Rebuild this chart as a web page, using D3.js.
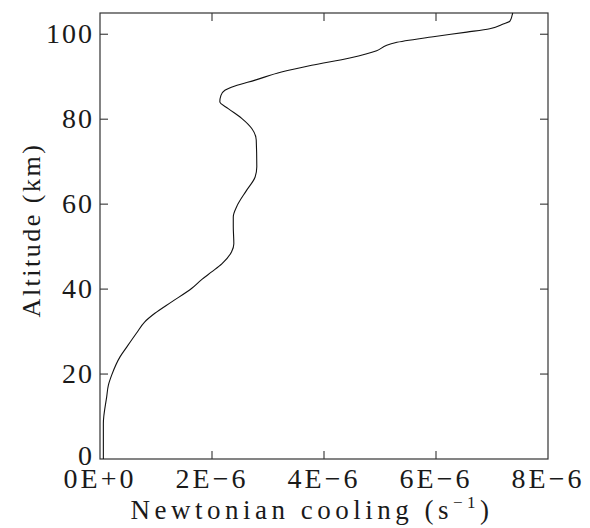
<!DOCTYPE html>
<html>
<head>
<meta charset="utf-8">
<script src="https://cdn.jsdelivr.net/npm/d3@7/dist/d3.min.js"></script>
<style>
  html, body { margin: 0; padding: 0; background: #fff; }
</style>
</head>
<body>
<svg id="chart" width="590" height="528" font-family="'Liberation Serif', 'DejaVu Serif', serif"></svg>
<script>
// Newtonian cooling rate profile (s^-1) versus altitude (km)
const altitude = [0, 8.4, 14.7, 17.4, 19.8, 24.1, 26.4, 29.6, 32.3, 34.3, 37.0, 40.2, 42.3, 44.1, 46.0, 48.8, 50.7,
  54.7, 57.0, 59.4, 63.3, 66.4, 68.8, 75.1, 77.8, 80.2, 82.5, 84.1, 85.6, 86.8, 87.8, 89.2, 91.1,
  92.7, 94.4, 96.1, 97.4, 98.0, 99.4, 100.5, 101.3, 102.4, 103.1, 104.5, 105.0];
const cooling = [0.06, 0.06, 0.12, 0.15, 0.21, 0.36, 0.48, 0.65, 0.80, 0.98, 1.28, 1.64, 1.82, 2.00, 2.18, 2.35, 2.39,
  2.38, 2.38, 2.44, 2.62, 2.77, 2.80, 2.79, 2.71, 2.53, 2.29, 2.14, 2.16, 2.23, 2.41, 2.77, 3.24,
  3.78, 4.46, 4.94, 5.12, 5.27, 5.95, 6.55, 6.96, 7.20, 7.32, 7.36, 7.37].map(v => v * 1e-6);

const xTicks = [0, 2e-6, 4e-6, 6e-6, 8e-6];
const xTickLabels = ["0E+0", "2E\u22126", "4E\u22126", "6E\u22126", "8E\u22126"];
const yTicks = [0, 20, 40, 60, 80, 100];

const svg = d3.select("#chart");
const plotLeft = 100, plotRight = 548, plotTop = 13, plotBottom = 459;

const x = d3.scaleLinear().domain([0, 8e-6]).range([plotLeft, plotRight]);
const y = d3.scaleLinear().domain([0, 105]).range([plotBottom, plotTop]);

const tickLen = 8;
const axisColor = "#333";
const textColor = "#1a1a1a";

// Frame
svg.append("rect")
  .attr("x", plotLeft).attr("y", plotTop)
  .attr("width", plotRight - plotLeft).attr("height", plotBottom - plotTop)
  .attr("fill", "none").attr("stroke", axisColor).attr("stroke-width", 1.2);

// Inward ticks on all four sides
const g = svg.append("g").attr("stroke", axisColor).attr("stroke-width", 1.1);
xTicks.slice(1, -1).forEach(t => {
  g.append("line").attr("x1", x(t)).attr("x2", x(t)).attr("y1", plotBottom).attr("y2", plotBottom - tickLen);
  g.append("line").attr("x1", x(t)).attr("x2", x(t)).attr("y1", plotTop).attr("y2", plotTop + tickLen);
});
yTicks.slice(1).forEach(t => {
  g.append("line").attr("y1", y(t)).attr("y2", y(t)).attr("x1", plotLeft).attr("x2", plotLeft + tickLen);
  g.append("line").attr("y1", y(t)).attr("y2", y(t)).attr("x1", plotRight).attr("x2", plotRight - tickLen);
});

// Tick labels
svg.append("g").selectAll("text").data(xTicks).join("text")
  .attr("x", d => x(d)).attr("y", 488)
  .attr("text-anchor", "middle")
  .attr("fill", textColor)
  .attr("font-size", 28).attr("letter-spacing", 3)
  .text((d, i) => xTickLabels[i]);

svg.append("g").selectAll("text").data(yTicks).join("text")
  .attr("x", 94).attr("y", d => y(d) + (d === 0 ? 6 : 9))
  .attr("text-anchor", "end")
  .attr("fill", textColor)
  .attr("font-size", 28).attr("letter-spacing", 2)
  .text(d => d);

// Axis titles
const xt = svg.append("text")
  .attr("x", 312).attr("y", 519)
  .attr("text-anchor", "middle")
  .attr("fill", textColor)
  .attr("font-size", 27).attr("letter-spacing", 4.5);
xt.append("tspan").text("Newtonian cooling (s");
xt.append("tspan").attr("font-size", 17).attr("dy", -11).text("\u22121");
xt.append("tspan").attr("dy", 11).text(")");

svg.append("text")
  .attr("transform", "translate(40,230) rotate(-90)")
  .attr("text-anchor", "middle")
  .attr("fill", textColor)
  .attr("font-size", 26).attr("letter-spacing", 2.5)
  .text("Altitude (km)");

// Profile curve
const line = d3.line()
  .x((d, i) => x(cooling[i]))
  .y(d => y(d))
  .curve(d3.curveMonotoneY);

svg.append("path")
  .datum(altitude)
  .attr("d", line)
  .attr("fill", "none")
  .attr("stroke", "#111")
  .attr("stroke-width", 1.1);
</script>
</body>
</html>
